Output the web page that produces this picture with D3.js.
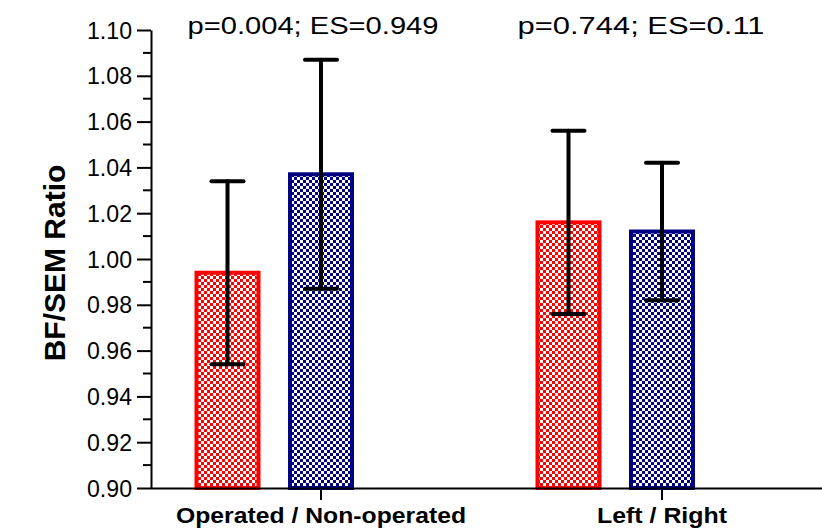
<!DOCTYPE html>
<html lang="en">
<head>
    <meta charset="UTF-8">
    <title>BF/SEM Ratio</title>
    <style>
        body { margin: 0; background: #fff; }
        text { font-family: "Liberation Sans", Arial, sans-serif; }
    </style>
</head>
<body>
    <svg width="822" height="530" id="svg"></svg>
    <script src="https://d3js.org/d3.v7.min.js"></script>
    <script>
        // data
        let groups = ["Operated / Non-operated", "Left / Right"]
        let series = ["first", "second"]
        let means = [[0.994, 1.037], [1.016, 1.012]]
        let errors = [[0.040, 0.050], [0.040, 0.030]]
        let stats = ["p=0.004; ES=0.949", "p=0.744; ES=0.11"]
        let colors = ["#ff0000", "#000080"]
        let yTicks = [0.90, 0.92, 0.94, 0.96, 0.98, 1.00, 1.02, 1.04, 1.06, 1.08, 1.10]

        var svg = d3.select("svg")

        var xScale = d3.scaleBand().domain(groups).range([150.5, 832.5])
        var xSub = d3.scalePoint().domain(series).range([-93.5, 0]) // second bar sits on the tick
        var yScale = d3.scaleLinear().domain([0.90, 1.10]).range([488, 30])
        var barW = 62

        // checker patterns
        var defs = svg.append("defs")
        series.forEach(function (s, i) {
            var p = defs.append("pattern")
                .attr("id", "chk" + i)
                .attr("patternUnits", "userSpaceOnUse")
                .attr("width", 6).attr("height", 6)
            p.append("rect").attr("width", 6).attr("height", 6).attr("fill", colors[i])
            p.append("rect").attr("width", 3).attr("height", 3).attr("fill", "#fff")
            p.append("rect").attr("x", 3).attr("y", 3).attr("width", 3).attr("height", 3).attr("fill", "#fff")
        })

        // flatten into one row per bar
        let rows = []
        groups.forEach(function (g, gi) {
            series.forEach(function (s, si) {
                rows.push({ group: g, s: s, si: si, mean: means[gi][si], err: errors[gi][si] })
            })
        })
        function tickX(g) { return xScale(g) + xScale.bandwidth() / 2 + xSub("second") }
        function cx(d) { return xScale(d.group) + xScale.bandwidth() / 2 + xSub(d.s) }

        svg.selectAll(".bar")
            .data(rows)
            .enter()
            .append("rect")
            .attr("class", "bar")
            .attr("x", function (d) { return cx(d) - barW / 2 })
            .attr("y", function (d) { return yScale(d.mean) })
            .attr("width", barW)
            .attr("height", function (d) { return yScale(0.90) - yScale(d.mean) })
            .attr("fill", function (d) { return "url(#chk" + d.si + ")" })
            .attr("stroke", function (d) { return colors[d.si] })
            .attr("stroke-width", 4)

        // error bars
        var eb = svg.selectAll(".err").data(rows).enter().append("g")
            .attr("class", "err")
            .attr("stroke", "#000").attr("stroke-width", 4).attr("stroke-linecap", "round")
        eb.append("line")
            .attr("x1", cx).attr("x2", cx)
            .attr("y1", function (d) { return yScale(d.mean + d.err) })
            .attr("y2", function (d) { return yScale(d.mean - d.err) })
        eb.append("line")
            .attr("x1", function (d) { return cx(d) - 16 }).attr("x2", function (d) { return cx(d) + 16 })
            .attr("y1", function (d) { return yScale(d.mean + d.err) })
            .attr("y2", function (d) { return yScale(d.mean + d.err) })
        eb.append("line")
            .attr("x1", function (d) { return cx(d) - 16 }).attr("x2", function (d) { return cx(d) + 16 })
            .attr("y1", function (d) { return yScale(d.mean - d.err) })
            .attr("y2", function (d) { return yScale(d.mean - d.err) })

        // y axis: major + minor ticks
        var yAxis = svg.append("g")
            .attr("transform", "translate(151,0)")
            .call(d3.axisLeft(yScale).tickValues(yTicks).tickFormat(d3.format(".2f"))
                .tickSize(14).tickPadding(5).tickSizeOuter(0))
        yAxis.select(".domain").attr("stroke-width", 2)
        yAxis.selectAll(".tick line").attr("stroke-width", 2)
        yAxis.selectAll(".tick text").attr("font-size", 23).attr("dy", "0.35em")
            .attr("textLength", 45).attr("lengthAdjust", "spacingAndGlyphs")
        let minor = yTicks.slice(0, -1).map(function (v) { return v + 0.01 })
        yAxis.selectAll(".minor").data(minor).enter().append("line")
            .attr("class", "minor")
            .attr("x1", -8).attr("x2", 0)
            .attr("y1", function (d) { return yScale(d) }).attr("y2", function (d) { return yScale(d) })
            .attr("stroke", "#000").attr("stroke-width", 2)

        // x axis
        var xAxis = svg.append("g")
            .attr("transform", "translate(0,488)")
            .call(d3.axisBottom(xScale).tickSize(12).tickSizeOuter(0).tickFormat(""))
        xAxis.select(".domain").attr("stroke-width", 2)
        xAxis.selectAll(".tick line").attr("stroke-width", 2)
            .attr("transform", "translate(" + xSub("second") + ",0)")

        let labelW = [290, 130]
        svg.selectAll(".xlab").data(groups).enter().append("text")
            .attr("class", "xlab")
            .attr("x", function (d, i) { return tickX(d) - labelW[i] / 2 })
            .attr("y", 523)
            .attr("font-size", 22).attr("font-weight", "bold")
            .attr("textLength", function (d, i) { return labelW[i] })
            .attr("lengthAdjust", "spacingAndGlyphs")
            .text(function (d) { return d })

        // stats above each group
        let statW = [251, 247]
        let statShift = [-8, -21]
        svg.selectAll(".stat").data(stats).enter().append("text")
            .attr("class", "stat")
            .attr("x", function (d, i) { return tickX(groups[i]) + statShift[i] - statW[i] / 2 })
            .attr("y", 34)
            .attr("font-size", 24)
            .attr("textLength", function (d, i) { return statW[i] })
            .attr("lengthAdjust", "spacingAndGlyphs")
            .text(function (d) { return d })

        // y label
        svg.append("text")
            .attr("transform", "translate(65,263) rotate(-90)")
            .attr("text-anchor", "middle")
            .attr("font-size", 30).attr("font-weight", "bold")
            .text("BF/SEM Ratio")
    </script>
</body>
</html>
